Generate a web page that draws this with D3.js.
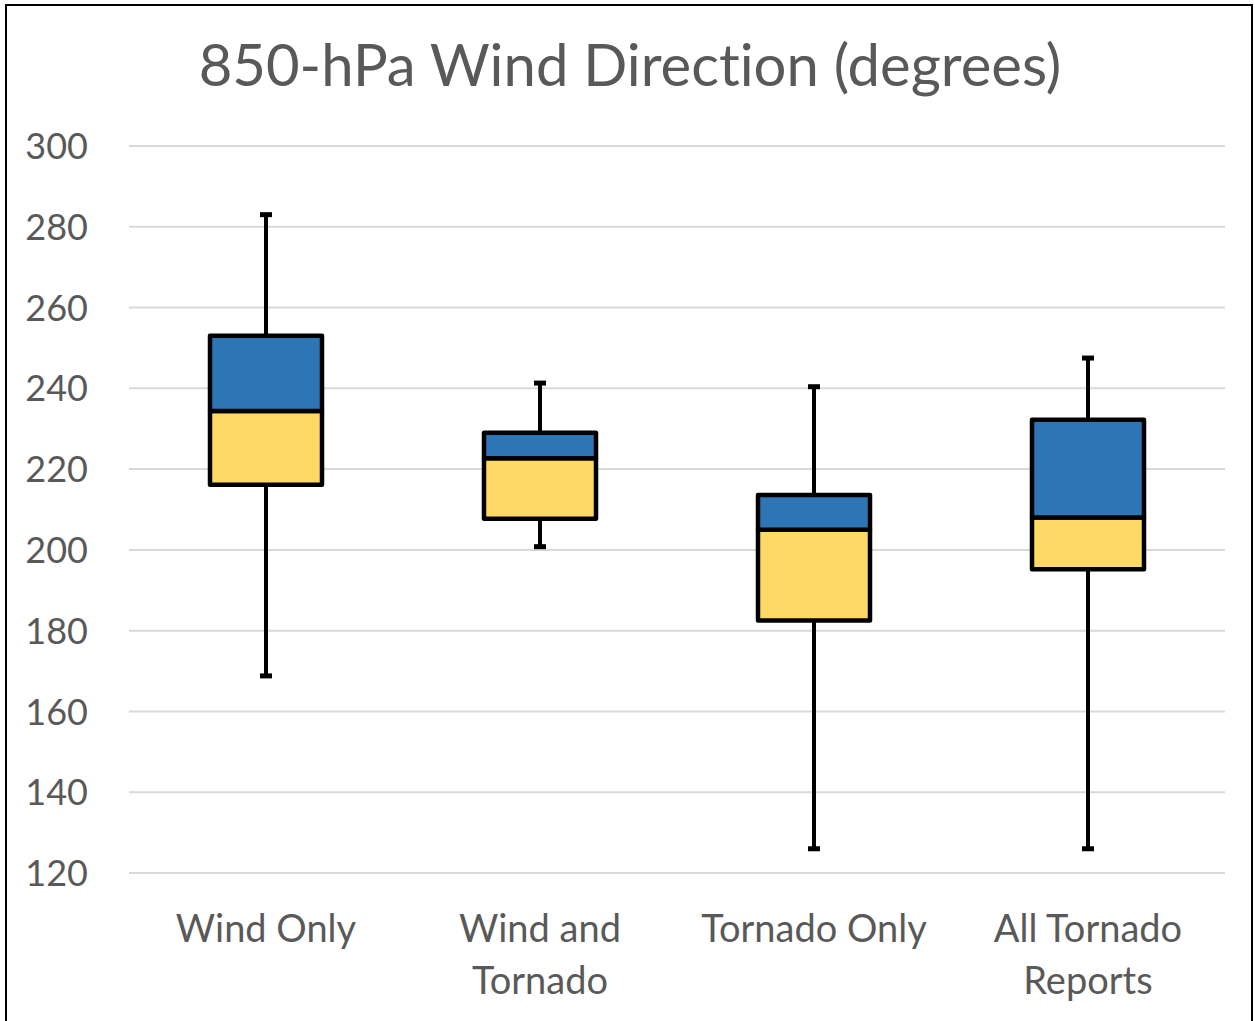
<!DOCTYPE html>
<html>
<head>
<meta charset="utf-8">
<script src="https://cdn.jsdelivr.net/npm/d3@7"></script>
<style>
  html, body { margin: 0; padding: 0; background: #fff; }
  svg { display: block; }
  text { font-variant-ligatures: none; font-feature-settings: "liga" 0; }
</style>
</head>
<body>
<svg id="chart" width="1255" height="1021"></svg>
<script>
// Box-plot statistics for 850-hPa wind direction (degrees)
const categories = [["Wind Only"], ["Wind and", "Tornado"], ["Tornado Only"], ["All Tornado", "Reports"]];
const whiskerMin = [168.8, 200.8, 126.0, 126.0];
const quartile1  = [216.1, 207.7, 182.5, 195.2];
const medians    = [234.4, 222.7, 205.0, 208.0];
const quartile3  = [253.0, 229.0, 213.6, 232.2];
const whiskerMax = [283.0, 241.3, 240.4, 247.5];
const yTicks = [120, 140, 160, 180, 200, 220, 240, 260, 280, 300];

const svg = d3.select("#chart");
const W = 1255, H = 1021;
const font = "Lato, 'Open Sans', sans-serif";
const textColor = "#595959";

// outer frame
svg.append("rect")
  .attr("x", 6).attr("y", 5)
  .attr("width", W - 9).attr("height", H)
  .attr("fill", "#fff").attr("stroke", "#000").attr("stroke-width", 2);

const plot = { left: 129, right: 1225, top: 146, bottom: 873 };

const x = d3.scaleBand()
  .domain(d3.range(categories.length))
  .range([plot.left, plot.right])
  .paddingInner(0).paddingOuter(0);

const y = d3.scaleLinear()
  .domain([120, 300])
  .range([plot.bottom, plot.top]);

// title
svg.append("text")
  .attr("x", 630).attr("y", 86)
  .attr("text-anchor", "middle")
  .attr("font-family", font)
  .attr("font-size", 58)
  .attr("fill", textColor)
  .text("850-hPa Wind Direction (degrees)");

// gridlines
svg.append("g").selectAll("line")
  .data(yTicks).join("line")
  .attr("x1", plot.left).attr("x2", plot.right)
  .attr("y1", d => y(d)).attr("y2", d => y(d))
  .attr("stroke", "#d9d9d9").attr("stroke-width", 2);

// y axis labels
const yAxis = d3.axisLeft(y).tickValues(yTicks).tickSize(0).tickPadding(0);
const yg = svg.append("g")
  .attr("transform", `translate(88,0)`)
  .call(yAxis);
yg.select(".domain").remove();
yg.selectAll("text")
  .attr("font-family", font)
  .attr("font-size", 36)
  .attr("fill", textColor)
  .attr("dy", "0.35em");

// category labels
const xl = svg.append("g").selectAll("text")
  .data(categories).join("text")
  .attr("x", (d, i) => x(i) + x.bandwidth() / 2)
  .attr("y", 942)
  .attr("text-anchor", "middle")
  .attr("font-family", font)
  .attr("font-size", 38)
  .attr("fill", textColor);
xl.selectAll("tspan")
  .data(d => d).join("tspan")
  .attr("x", function() { return this.parentNode.getAttribute("x"); })
  .attr("dy", (d, i) => i === 0 ? 0 : 52)
  .text(d => d);

// boxes
const boxW = 112, capW = 12;
const data = categories.map((c, i) => ({
  i, lo: whiskerMin[i], q1: quartile1[i], med: medians[i], q3: quartile3[i], hi: whiskerMax[i]
}));

const g = svg.append("g");
data.forEach(d => {
  const cx = x(d.i) + x.bandwidth() / 2;
  const bx = cx - boxW / 2;
  // whiskers
  g.append("line")
    .attr("x1", cx).attr("x2", cx)
    .attr("y1", y(d.hi)).attr("y2", y(d.q3))
    .attr("stroke", "#000").attr("stroke-width", 4);
  g.append("line")
    .attr("x1", cx).attr("x2", cx)
    .attr("y1", y(d.q1)).attr("y2", y(d.lo))
    .attr("stroke", "#000").attr("stroke-width", 4);
  [d.hi, d.lo].forEach(v => {
    g.append("line")
      .attr("x1", cx - capW / 2).attr("x2", cx + capW / 2)
      .attr("y1", y(v)).attr("y2", y(v))
      .attr("stroke", "#000").attr("stroke-width", 5);
  });
  // lower half (Q1 to median)
  g.append("rect")
    .attr("x", bx).attr("width", boxW)
    .attr("y", y(d.med)).attr("height", y(d.q1) - y(d.med))
    .attr("fill", "#FFD966").attr("stroke", "#000")
    .attr("stroke-width", 4.5).attr("stroke-linejoin", "round");
  // upper half (median to Q3)
  g.append("rect")
    .attr("x", bx).attr("width", boxW)
    .attr("y", y(d.q3)).attr("height", y(d.med) - y(d.q3))
    .attr("fill", "#2E75B6").attr("stroke", "#000")
    .attr("stroke-width", 4.5).attr("stroke-linejoin", "round");
});
</script>
</body>
</html>
